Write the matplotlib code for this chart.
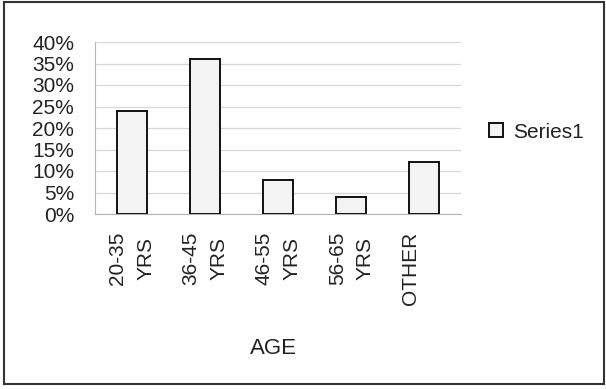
import matplotlib.pyplot as plt
from matplotlib.patches import Rectangle

categories = ["20-35\nYRS", "36-45\nYRS", "46-55\nYRS", "56-65\nYRS", "OTHER\n "]
shares = [0.24, 0.36, 0.08, 0.04, 0.12]
yticks = [0.0, 0.05, 0.10, 0.15, 0.20, 0.25, 0.30, 0.35, 0.40]

plt.rcParams['font.family'] = ['Liberation Sans', 'DejaVu Sans']

fig = plt.figure(figsize=(6.06, 3.89), dpi=100)
ax = fig.add_axes([95 / 606, 1 - 214 / 389, 366 / 606, 172 / 389])

bars = ax.bar(range(len(shares)), shares, width=0.41, color="#f3f3f3",
              edgecolor="#111111", linewidth=1.4, label="Series1", zorder=3)

ax.set_xlim(-0.5, len(shares) - 0.5)
ax.set_ylim(0, 0.40)
ax.set_yticks(yticks)
ax.set_yticklabels([f"{int(round(v * 100))}%" for v in yticks], fontsize=15,
                   color="#222222")
ax.set_xticks(range(len(categories)))
ax.set_xticklabels(categories, rotation=90, fontsize=15, color="#222222",
                   va="top", ha="center", multialignment="center",
                   linespacing=1.6)
ax.tick_params(axis="y", length=0, pad=15)
ax.tick_params(axis="x", length=0, pad=13)

ax.grid(axis="y", color="#d6d6d6", linewidth=0.9, zorder=0)
for side in ("top", "right"):
    ax.spines[side].set_visible(False)
ax.spines["left"].set_color("#b5b5b5")
ax.spines["bottom"].set_color("#b5b5b5")

fig.text(273 / 606, 1 - 348 / 389, "AGE", fontsize=16, color="#222222",
         ha="center", va="center")

fig.legend(handles=[bars], loc="center left",
           bbox_to_anchor=(489 / 606, 1 - 132 / 389), frameon=False,
           fontsize=15, handlelength=0.65, handleheight=0.65,
           handletextpad=0.5, borderpad=0, borderaxespad=0,
           labelcolor="#222222")

# outer frame around the whole chart
fig.patches.append(Rectangle((4 / 606, 5 / 389), 600 / 606, 382 / 389,
                             transform=fig.transFigure, fill=False,
                             edgecolor="#333333", linewidth=1.5))

fig.savefig("out.png", dpi=100)
